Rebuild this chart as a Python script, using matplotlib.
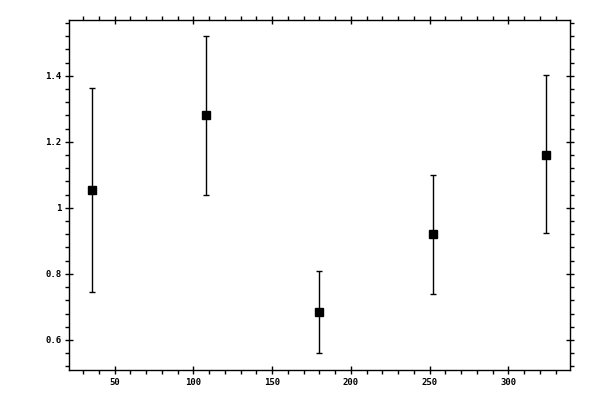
import matplotlib
matplotlib.use('Agg')
import matplotlib.pyplot as plt
from matplotlib.ticker import MultipleLocator, FuncFormatter

x_vals = [36, 108, 180, 252, 324]
y_vals = [1.055, 1.282, 0.684, 0.921, 1.161]
err_low = [0.310, 0.242, 0.123, 0.182, 0.236]
err_high = [0.309, 0.239, 0.124, 0.178, 0.241]

plt.rcParams['font.family'] = 'DejaVu Sans Mono'

fig = plt.figure(figsize=(6, 4), dpi=100)
ax = fig.add_axes([0.1158, 0.075, 0.8350, 0.876])

ax.errorbar(x_vals, y_vals, yerr=[err_low, err_high], fmt='s', color='black',
            markersize=5.2, elinewidth=1, capsize=1.9, capthick=1)

ax.set_xlim(21.4, 339.5)
ax.set_ylim(0.509, 1.57)

ax.xaxis.set_major_locator(MultipleLocator(50))
ax.xaxis.set_minor_locator(MultipleLocator(10))
ax.yaxis.set_major_locator(MultipleLocator(0.2))
ax.yaxis.set_minor_locator(MultipleLocator(0.04))
ax.yaxis.set_major_formatter(FuncFormatter(lambda v, p: '%g' % round(v, 2)))

ax.tick_params(which='major', direction='inout', length=6, width=1,
               top=True, right=True, labelsize=6.5, pad=3)
ax.tick_params(which='minor', direction='out', length=2.6, width=1,
               top=True, right=True)
for lab in ax.get_xticklabels() + ax.get_yticklabels():
    lab.set_fontweight('bold')

for sp in ax.spines.values():
    sp.set_linewidth(1)

fig.savefig('out.png', dpi=100)
